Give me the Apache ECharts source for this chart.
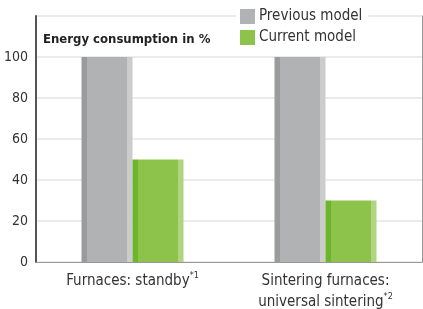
<!DOCTYPE html>
<html><head><meta charset="utf-8">
<script src="https://cdn.jsdelivr.net/npm/echarts@6/dist/echarts.min.js"></script>
<style>html,body{margin:0;padding:0;background:#fff}#c{width:423px;height:309px}</style>
</head><body><div id="c"></div>
<script>
const categories = ['Furnaces: standby', 'Sintering furnaces:\nuniversal sintering'];
const footnotes = ['*1', '*2'];
const previousModel = [100, 100];
const currentModel = [50, 30];
const yTicks = [0, 20, 40, 60, 80, 100];
const FONT = '"Liberation Sans Narrow", "DejaVu Sans Condensed", sans-serif';

function stripes(dark, main, light) {
  return new echarts.graphic.LinearGradient(0, 0, 1, 0, [
    {offset: 0, color: dark}, {offset: 0.1, color: dark},
    {offset: 0.1, color: main}, {offset: 0.9, color: main},
    {offset: 0.9, color: light}, {offset: 1, color: light}
  ]);
}

const chart = echarts.init(document.getElementById('c'));
chart.setOption({
  animation: false,
  backgroundColor: '#fff',
  textStyle: {fontFamily: FONT},
  title: {
    text: 'Energy consumption in %', left: 38, top: 28,
    textStyle: {fontFamily: FONT, fontSize: 13, fontWeight: 'bold', color: '#222'}
  },
  legend: {
    left: 236, top: 5, orient: 'vertical', itemWidth: 15, itemHeight: 15, itemGap: 6,
    backgroundColor: '#fff', padding: [4, 6, 4, 4],
    icon: 'rect',
    textStyle: {fontFamily: FONT, fontSize: 15, color: '#333', padding: [0, 0, 0, -1]},
    data: [
      {name: 'Previous model', itemStyle: {color: '#b1b2b3'}},
      {name: 'Current model', itemStyle: {color: '#8dc24b'}}
    ]
  },
  grid: {left: 36, right: 1, top: 16, bottom: 47, outerBoundsMode: 'none', containLabel: false},
  xAxis: {
    type: 'category', data: categories,
    axisLine: {show: true, lineStyle: {color: '#999', width: 1}},
    axisTick: {show: false},
    axisLabel: {
      interval: 0, margin: 9, color: '#333', fontSize: 15, fontFamily: FONT, lineHeight: 21,
      formatter: function (v, i) {
        const lines = v.split('\n');
        return lines.map((l, k) => k === lines.length - 1 ? '{m|' + l + '}{s|' + footnotes[i] + '}' : '{m|' + l + '}').join('\n');
      },
      rich: {
        m: {fontSize: 15, fontFamily: FONT, color: '#333', lineHeight: 21},
        s: {fontSize: 9, fontFamily: FONT, color: '#333', verticalAlign: 'top', lineHeight: 21, padding: [0, 0, 8, 0]}
      }
    }
  },
  yAxis: [{
    type: 'value', min: 0, max: 120, interval: 20,
    axisLine: {show: true, lineStyle: {color: '#555', width: 2}},
    axisTick: {show: false},
    axisLabel: {
      margin: 8, color: '#333', fontSize: 14, fontFamily: FONT,
      formatter: v => yTicks.indexOf(v) >= 0 ? String(v) : ''
    },
    splitLine: {show: true, lineStyle: {color: '#e4e4e4', width: 1.5}}
  }, {
    type: 'value', min: 0, max: 120, interval: 20, position: 'right',
    axisLine: {show: true, lineStyle: {color: '#999', width: 1}},
    axisTick: {show: false}, axisLabel: {show: false}, splitLine: {show: false}
  }],
  series: [{
    name: 'Previous model', type: 'bar', data: previousModel, barWidth: 51, barGap: '0%',
    itemStyle: {color: stripes('#9a9b9b', '#b1b2b3', '#cbcccb')}
  }, {
    name: 'Current model', type: 'bar', data: currentModel, barWidth: 51, barGap: '0%',
    itemStyle: {color: stripes('#6cb52d', '#8dc24b', '#afd67d')}
  }]
});
</script></body></html>
